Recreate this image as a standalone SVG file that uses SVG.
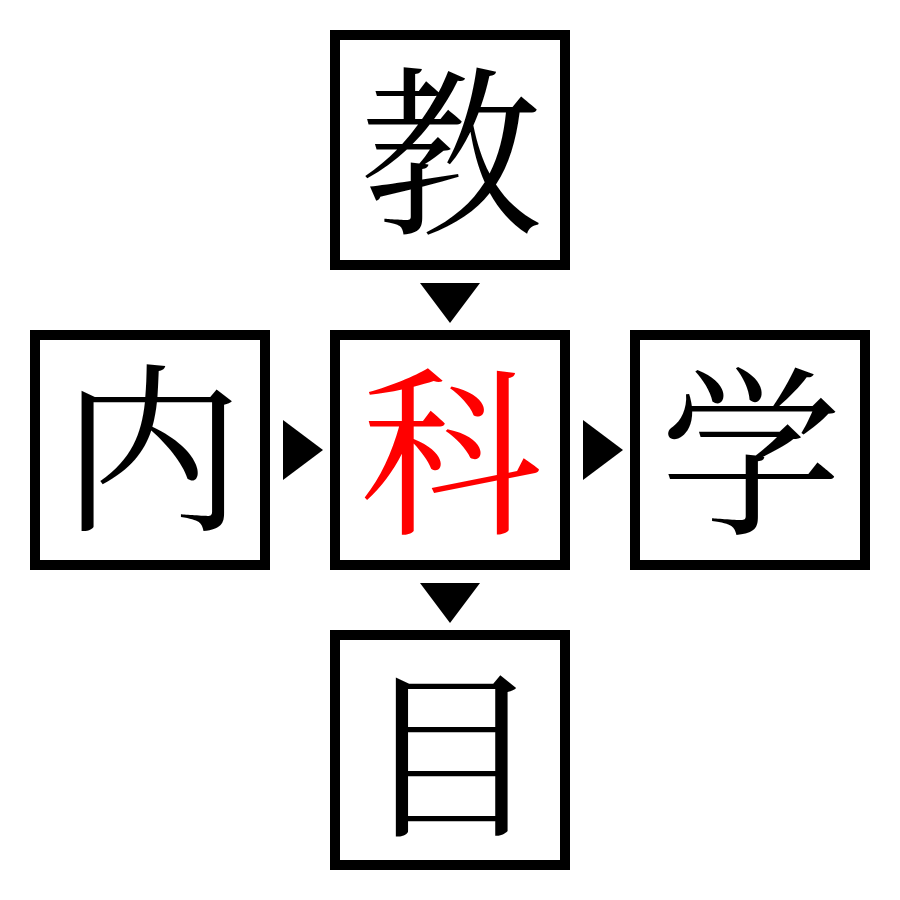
<svg xmlns="http://www.w3.org/2000/svg" width="900" height="900" viewBox="0 0 900 900">
<style>
.box{fill:#fff;stroke:#000;stroke-width:10}
.ch{font-family:"Noto Serif CJK JP","Noto Serif CJK SC","Noto Sans CJK JP",serif;font-size:182px;text-anchor:middle;fill:#000}
.red{fill:#ff0000}
.tri{fill:#000}
</style>
<rect width="900" height="900" fill="#fff"/>
<g id="connectors">
<polygon class="tri" points="420,283 480,283 450,323"/>
<polygon class="tri" points="420,583 480,583 450,623"/>
<polygon class="tri" points="283,420 283,480 323,450"/>
<polygon class="tri" points="583,420 583,480 623,450"/>
</g>
<g id="node-top"><rect class="box" x="335" y="35" width="230" height="230"/><text class="ch" x="451" y="220">教</text></g>
<g id="node-left"><rect class="box" x="35" y="335" width="230" height="230"/><text class="ch" x="152" y="517">内</text></g>
<g id="node-center"><rect class="box" x="335" y="335" width="230" height="230"/><text class="ch red" x="451" y="520">科</text></g>
<g id="node-right"><rect class="box" x="635" y="335" width="230" height="230"/><text class="ch" x="751" y="520">学</text></g>
<g id="node-bottom"><rect class="box" x="335" y="635" width="230" height="230"/><text class="ch" x="451" y="822">目</text></g>
</svg>
